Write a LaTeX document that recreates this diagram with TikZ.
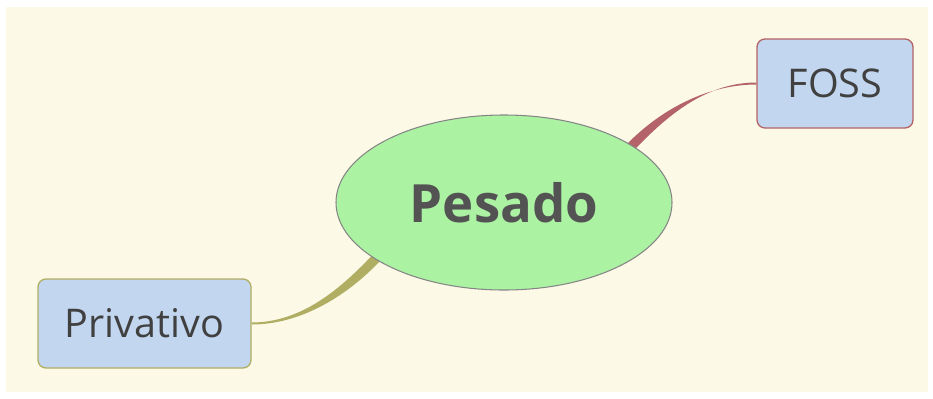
\documentclass[tikz,border=0pt]{standalone}
\usepackage{fontspec}
\setmainfont{Open Sans}
\usetikzlibrary{calc,shapes.geometric}
\pgfdeclarelayer{paperlayer}
\pgfdeclarelayer{links}
\pgfsetlayers{paperlayer,links,main}
\definecolor{paper}{HTML}{FCFAE7}
\definecolor{rootfill}{HTML}{ACF2A3}
\definecolor{rootline}{HTML}{858585}
\definecolor{leaffill}{HTML}{C2D6F0}
\definecolor{fossred}{HTML}{B46468}
\definecolor{privolive}{HTML}{B0AE62}
\definecolor{inkgray}{HTML}{404040}
\begin{document}
\begin{tikzpicture}[
    rootnode/.style={shape=ellipse, draw=rootline, fill=rootfill, line width=0.6pt, inner sep=0, minimum width=6.72cm, minimum height=3.5cm, text=inkgray!90, font=\fontsize{30}{36}\selectfont\bfseries},
    leafnode/.style={shape=rectangle, rounded corners=0.16cm, fill=leaffill, line width=0.75pt, inner sep=0, minimum height=1.78cm, text=inkgray, font=\fontsize{22.5}{27}\selectfont},
    wire/.style={line width=0pt}
  ]
        % Paths, nodes and wires:
        \useasboundingbox (0, 0) rectangle (18.66, 7.96);
        \begin{pgfonlayer}{paperlayer}
        \fill[white] (0, 0) rectangle (18.66, 7.96);
        \fill[paper] (0.12, 0.12) rectangle (18.56, 7.82);
        \end{pgfonlayer}
        \node[rootnode] (pesado) at (10.08, 3.91){Pesado};
        \node[leafnode, draw=fossred, minimum width=3.12cm] (foss) at (16.70, 6.29){FOSS};
        \node[leafnode, draw=privolive, minimum width=4.26cm] (privativo) at (2.89, 1.49){Privativo};
        \coordinate (fossend) at (12.2, 4.55);
        \coordinate (privend) at (7.96, 3.3);
        \begin{pgfonlayer}{links}
        \fill[wire, fossred] ($(foss.west)+(0, 0.02)$) .. controls +(-1.25, 0) and +(0.72, 0.78) .. ($(fossend)+(0.06, -0.045)$) -- ($(fossend)+(-0.06, 0.045)$) .. controls +(0.6, 0.86) and +(-1.25, 0) .. ($(foss.west)+(0, -0.02)$) -- cycle;
        \fill[wire, privolive] ($(privativo.east)+(0, 0.02)$) .. controls +(1.25, 0) and +(-0.72, -0.78) .. ($(privend)+(-0.06, 0.045)$) -- ($(privend)+(0.06, -0.045)$) .. controls +(-0.6, -0.86) and +(1.25, 0) .. ($(privativo.east)+(0, -0.02)$) -- cycle;
        \end{pgfonlayer}
      \end{tikzpicture}
\end{document}
